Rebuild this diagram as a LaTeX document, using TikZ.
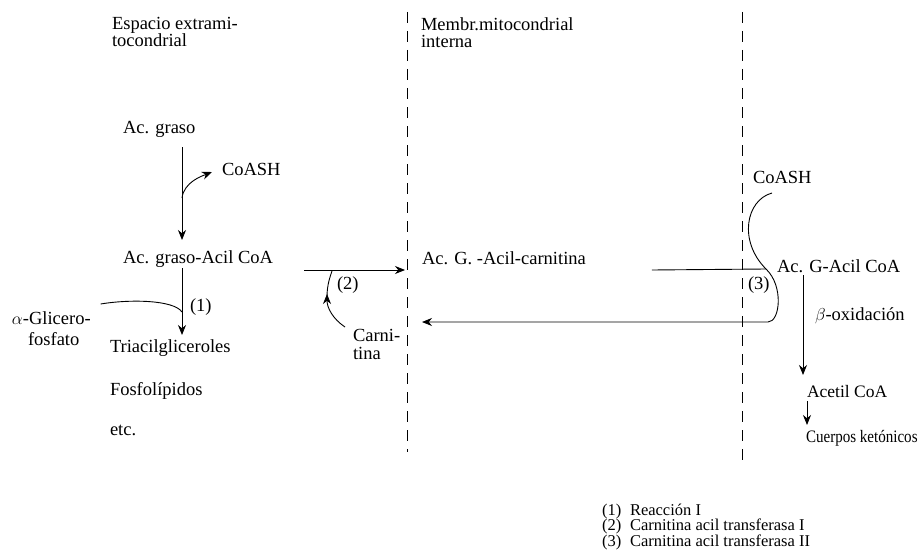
\documentclass[tikz,border=0pt]{standalone}
\usepackage{fontspec}
\setmainfont{Liberation Serif}
\usetikzlibrary{arrows.meta}
\begin{document}
\begin{tikzpicture}[x=1pt,y=-1pt,
  font=\fontsize{18.5}{17}\selectfont,
  every node/.style={inner sep=0pt,outer sep=0pt,anchor=base west},
  line/.style={line width=0.9pt},
  arr/.style={line width=0.9pt,-{Stealth[length=10pt,width=8pt]}},
  memb/.style={line width=0.8pt,dash pattern=on 11pt off 8pt},
  small/.style={font=\fontsize{17.5}{16}\selectfont},
  legend/.style={font=\fontsize{16.5}{16}\selectfont}]
\useasboundingbox (0,0) rectangle (924,551);
% membranes
\coordinate (m1top) at (407,12);
\coordinate (m1bot) at (407,452);
\coordinate (m2top) at (742,12);
\coordinate (m2bot) at (742,463);
\draw[memb] (m1top) -- (m1bot);
\draw[memb] (m2top) -- (m2bot);
% headers
\node (esp1) at (112,30) {Espacio extrami-};
\node (esp2) at (112,47) {tocondrial};
\node (mem1) at (421,31) {Membr.mitocondrial};
\node (mem2) at (421,48) {interna};
% left column
\node (graso) at (123,133) {Ac. graso};
\node (coash1) at (222,175) {CoASH};
\node (acil) at (123,263) {Ac. graso-Acil CoA};
\node (r1) at (190,311) {(1)};
\node (glic1) at (12,324) {$\alpha$-Glicero-};
\node (glic2) at (28,345) {fosfato};
\node (tri) at (110,352) {Triacilgliceroles};
\node (fos) at (110,395) {Fosfolípidos};
\node (etc) at (110,435) {etc.};
% middle
\node (r2) at (337,289) {(2)};
\node (carni1) at (353,341) {Carni-};
\node (carni2) at (353,359) {tina};
\node (carn) at (422,264) {Ac. G. -Acil-carnitina};
% right
\node (coash2) at (753,183) {CoASH};
\node (agcoa) at (777,272) {Ac. G-Acil CoA};
\node (r3) at (748,289) {(3)};
\node (beta) at (815,320) {$\beta$-oxidación};
\node[small] (acetil) at (807,397) {Acetil CoA};
\node[small] (cuer) at (806,442) {\scalebox{0.86}[1]{Cuerpos ketónicos}};
% legend
\node[legend] (l1n) at (602,515) {(1)};
\node[legend] (l1) at (630,515) {Reacción I};
\node[legend] (l2n) at (602,530.5) {(2)};
\node[legend] (l2) at (630,530.5) {Carnitina acil transferasa I};
\node[legend] (l3n) at (602,546) {(3)};
\node[legend] (l3) at (630,546) {Carnitina acil transferasa II};
% x references
\coordinate (xa) at (182,0);
\coordinate (xb) at (803,0);
\coordinate (xc) at (807,0);
% connectors left
\draw[arr] ([yshift=-14pt]graso.base -| xa) -- ([yshift=23pt]acil.base -| xa);
\draw[arr] ([yshift=-65pt]graso.base -| xa) .. controls +(2,-16) and +(-10,4) .. ([xshift=-10pt,yshift=3pt]coash1.base west);
\draw[arr] ([yshift=-5pt]acil.base -| xa) -- ([yshift=17pt]tri.base -| xa);
\draw[line] ([xshift=10pt,yshift=20pt]glic1.base east) .. controls +(30,-5) and +(-8,-12) .. ([yshift=-1pt]r1.base -| xa);
% transfer to membrane
\draw[arr] ([xshift=31pt,yshift=-7pt]acil.base east) -- ([xshift=-17pt,yshift=-6pt]carn.base west);
\coordinate (ctip) at (327,294);
\coordinate (cjoin) at (332,271);
\draw[arr] ([xshift=-8pt,yshift=14pt]carni1.base west) .. controls +(-12,-8) and +(0,14) .. (ctip);
\draw[line] ([yshift=-3pt]ctip) .. controls +(0,-12) and +(-2,6) .. (cjoin);
% right side
\coordinate (sjoin) at (766,269);
\coordinate (rettip) at (422,322);
\draw[line] ([xshift=66pt,yshift=-6pt]carn.base east) -- (sjoin);
\draw[arr] ([xshift=19pt,yshift=-10pt]coash2.base west) .. controls +(-26,7) and +(-28,-28) .. (sjoin)
  .. controls +(18,17) and +(12,0) .. (768,322) -- (rettip);
\draw[arr] ([yshift=-3pt]agcoa.base -| xb) -- ([yshift=22pt]acetil.base -| xb);
\draw[arr] ([yshift=-4pt]acetil.base -| xc) -- ([yshift=17pt]cuer.base -| xc);
\end{tikzpicture}
\end{document}
